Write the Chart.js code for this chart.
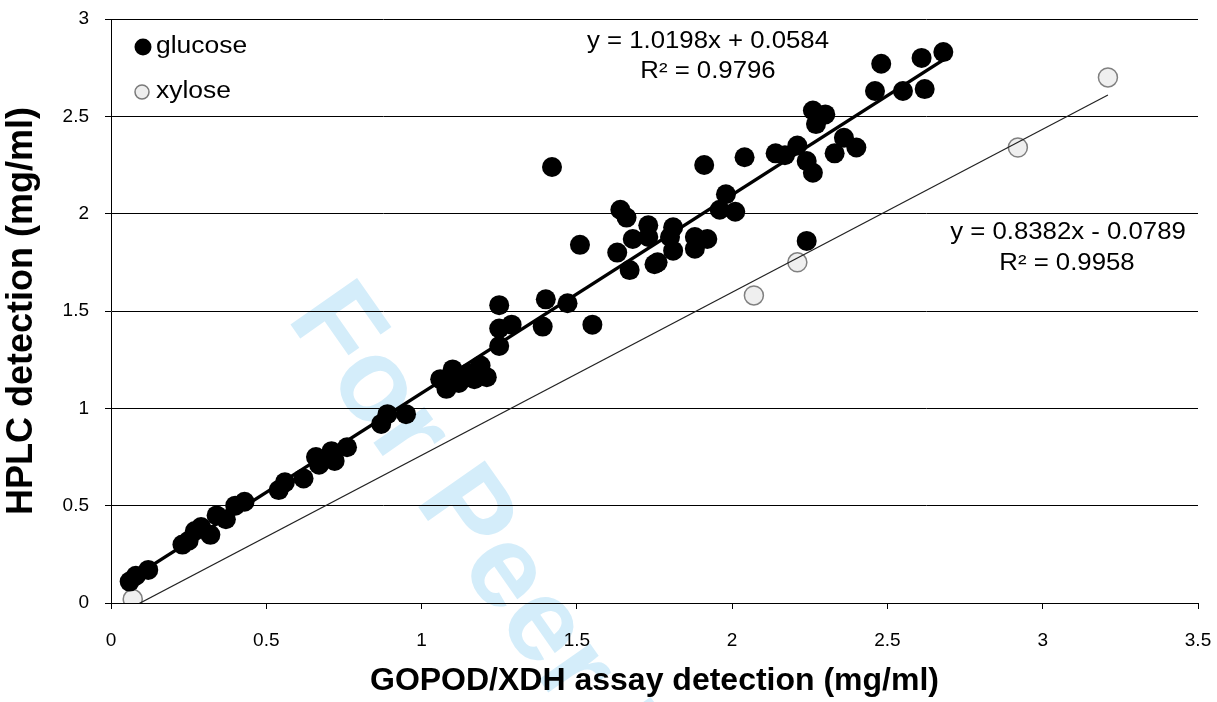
<!DOCTYPE html>
<html>
<head>
<meta charset="utf-8">
<script src="https://cdn.jsdelivr.net/npm/chart.js@4.4.0/dist/chart.umd.min.js"></script>
<style>
    html, body { margin: 0; padding: 0; background: #fff; }
    #wrap { width: 1217px; height: 702px; position: relative; }
</style>
</head>
<body>
<div id="wrap"><canvas id="scatterChart"></canvas></div>
<script>
// values
const glucoseX = [0.06, 0.08, 0.12, 0.23, 0.25, 0.27, 0.29, 0.32, 0.34, 0.37, 0.40, 0.43,
    0.54, 0.56, 0.62, 0.66, 0.67, 0.71, 0.72, 0.76, 0.87, 0.89, 0.95,
    1.06, 1.08, 1.10, 1.12, 1.15, 1.17, 1.19, 1.21, 1.25, 1.25, 1.29, 1.25, 1.39, 1.40, 1.42,
    1.47, 1.51, 1.55, 1.63, 1.64, 1.66, 1.67, 1.68, 1.73, 1.73, 1.75, 1.76, 1.81, 1.80, 1.81,
    1.88, 1.88, 1.92, 1.91, 1.96, 1.98, 2.01, 2.04, 2.14, 2.21, 2.17, 2.24, 2.26, 2.24,
    2.26, 2.30, 2.27, 2.33, 2.36, 2.40, 2.46, 2.48, 2.55, 2.61, 2.62, 2.68];
const glucoseY = [0.11, 0.14, 0.17, 0.30, 0.32, 0.37, 0.39, 0.35, 0.45, 0.43, 0.50, 0.52,
    0.58, 0.62, 0.64, 0.75, 0.71, 0.78, 0.73, 0.80, 0.92, 0.97, 0.97,
    1.15, 1.10, 1.20, 1.13, 1.18, 1.15, 1.22, 1.16, 1.32, 1.41, 1.43, 1.53, 1.42, 1.56, 2.24,
    1.54, 1.84, 1.43, 1.80, 2.02, 1.98, 1.71, 1.87, 1.94, 1.88, 1.74, 1.75, 1.93, 1.88, 1.81,
    1.88, 1.82, 1.87, 2.25, 2.02, 2.10, 2.01, 2.29, 2.31, 2.35, 2.30, 2.27, 2.21, 1.86,
    2.53, 2.51, 2.46, 2.31, 2.39, 2.34, 2.63, 2.77, 2.63, 2.80, 2.64, 2.83];
const xyloseX = [0.07, 2.07, 2.21, 2.92, 3.21];
const xyloseY = [0.02, 1.58, 1.75, 2.34, 2.70];

// trendline end points (as drawn in the picture)
const glucoseFitX = [0.06, 2.68];
const glucoseFitY = [0.12, 2.79];
const xyloseFitX = [0.07, 3.21];
const xyloseFitY = [-0.02, 2.61];

const xTicks = [0, 0.5, 1, 1.5, 2, 2.5, 3, 3.5];
const yTicks = [0, 0.5, 1, 1.5, 2, 2.5, 3];

const seriesNames = ['glucose', 'xylose'];
const glucoseEquation = ['y = 1.0198x + 0.0584', 'R\u00b2 = 0.9796'];
const xyloseEquation = ['y = 0.8382x - 0.0789', 'R\u00b2 = 0.9958'];

const FONT = '"Liberation Sans", Arial, sans-serif';

function toPoints(xs, ys) {
    return xs.map((x, i) => ({x: x, y: ys[i]}));
}

function stretchedText(ctx, text, x, y, size, align, stretch) {
    ctx.save();
    ctx.font = size + 'px ' + FONT;
    ctx.fillStyle = '#000';
    ctx.textBaseline = 'middle';
    const w = ctx.measureText(text).width * stretch;
    let left = x;
    if (align === 'center') left = x - w / 2;
    if (align === 'right') left = x - w;
    ctx.translate(left, y);
    ctx.scale(stretch, 1);
    ctx.textAlign = 'left';
    ctx.fillText(text, 0, 0);
    ctx.restore();
}

const notesPlugin = {
    id: 'notes',
    beforeDraw(chart) {
        // faint watermark behind everything
        const ctx = chart.ctx;
        ctx.save();
        ctx.translate(286, 318);
        ctx.rotate(55 * Math.PI / 180);
        ctx.font = 'bold 118px ' + FONT;
        ctx.fillStyle = '#d4edfa';
        ctx.textBaseline = 'alphabetic';
        ctx.fillText('For Peer Review', 0, 0);
        ctx.restore();
    },
    afterDatasetsDraw(chart) {
        const ctx = chart.ctx;

        // legend
        ctx.save();
        ctx.beginPath();
        ctx.arc(143, 47, 8.5, 0, Math.PI * 2);
        ctx.fillStyle = '#000';
        ctx.fill();
        ctx.beginPath();
        ctx.arc(142, 92, 7, 0, Math.PI * 2);
        ctx.fillStyle = '#eeeeee';
        ctx.fill();
        ctx.lineWidth = 1.5;
        ctx.strokeStyle = '#7a7a7a';
        ctx.stroke();
        ctx.restore();
        stretchedText(ctx, seriesNames[0], 156, 47, 23, 'left', 1.15);
        stretchedText(ctx, seriesNames[1], 156, 92, 23, 'left', 1.15);

        // trendline equations
        stretchedText(ctx, glucoseEquation[0], 708, 42, 23, 'center', 1.12);
        stretchedText(ctx, glucoseEquation[1], 708, 72, 23, 'center', 1.12);
        stretchedText(ctx, xyloseEquation[0], 1068, 233, 23, 'center', 1.12);
        stretchedText(ctx, xyloseEquation[1], 1067, 264, 23, 'center', 1.12);
    }
};

new Chart(document.getElementById('scatterChart'), {
    type: 'scatter',
    data: {
        datasets: [
            {
                label: 'glucose trend',
                type: 'line',
                data: toPoints(glucoseFitX, glucoseFitY),
                borderColor: '#000',
                borderWidth: 3.5,
                pointRadius: 0,
                fill: false,
                order: 1
            },
            {
                label: 'xylose trend',
                type: 'line',
                data: toPoints(xyloseFitX, xyloseFitY),
                borderColor: '#222',
                borderWidth: 1.2,
                pointRadius: 0,
                fill: false,
                order: 1
            },
            {
                label: seriesNames[0],
                data: toPoints(glucoseX, glucoseY),
                backgroundColor: '#000',
                borderColor: '#000',
                borderWidth: 0,
                pointRadius: 10,
                order: 2
            },
            {
                label: seriesNames[1],
                data: toPoints(xyloseX, xyloseY),
                backgroundColor: '#efefef',
                borderColor: '#808080',
                borderWidth: 1.5,
                pointRadius: 9.5,
                order: 2
            }
        ]
    },
    options: {
        responsive: true,
        maintainAspectRatio: false,
        animation: false,
        layout: {
            padding: {top: 19, right: 19, left: 0, bottom: 0}
        },
        plugins: {
            legend: {display: false},
            tooltip: {enabled: false}
        },
        scales: {
            x: {
                type: 'linear',
                min: 0,
                max: 3.5,
                afterBuildTicks: axis => { axis.ticks = xTicks.map(v => ({value: v})); },
                afterFit: scale => {
                    scale.height = 99;
                    scale.paddingLeft = 0;
                    scale.paddingRight = 0;
                },
                grid: {
                    drawOnChartArea: false,
                    drawTicks: true,
                    tickLength: 6,
                    color: '#000'
                },
                border: {display: true, color: '#000', width: 1},
                ticks: {
                    color: '#000',
                    padding: 20,
                    font: {family: FONT, size: 19},
                    callback: v => String(v)
                },
                title: {
                    display: true,
                    text: 'GOPOD/XDH assay detection (mg/ml)',
                    color: '#000',
                    font: {family: FONT, size: 32, weight: 'bold'},
                    padding: {top: 0, bottom: 2}
                }
            },
            y: {
                type: 'linear',
                min: 0,
                max: 3,
                afterBuildTicks: axis => { axis.ticks = yTicks.map(v => ({value: v})); },
                afterFit: scale => {
                    scale.width = 111;
                    scale.paddingTop = 0;
                    scale.paddingBottom = 0;
                },
                grid: {
                    drawTicks: true,
                    tickLength: 6,
                    color: '#000',
                    lineWidth: 1
                },
                border: {display: true, color: '#000', width: 1},
                ticks: {
                    color: '#000',
                    padding: 16,
                    font: {family: FONT, size: 19},
                    callback: v => String(v)
                },
                title: {
                    display: true,
                    text: 'HPLC detection (mg/ml)',
                    color: '#000',
                    font: {family: FONT, size: 36, weight: 'bold'},
                    padding: {top: 0, bottom: 5}
                }
            }
        }
    },
    plugins: [notesPlugin]
});
</script>
</body>
</html>
